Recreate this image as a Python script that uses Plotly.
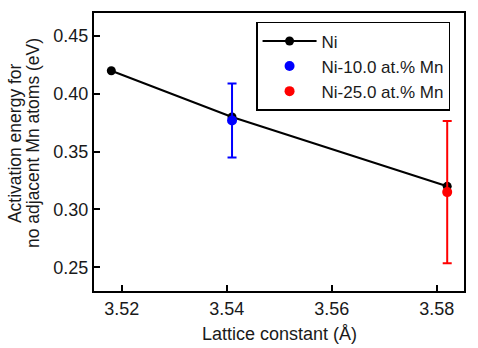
import plotly.graph_objects as go

# Data
ni_x = [3.518, 3.541, 3.582]
ni_y = [0.420, 0.380, 0.320]

mn10_x = [3.541]
mn10_y = [0.377]
mn10_err = [0.032]

mn25_x = [3.582]
mn25_y = [0.315]
mn25_err = [0.0615]

x_ticks = [3.52, 3.54, 3.56, 3.58]
y_ticks = [0.25, 0.30, 0.35, 0.40, 0.45]

x_title = "Lattice constant (Å)"
y_title_lines = ["Activation energy for", "no adjacent Mn atoms (eV)"]

FONT = "Liberation Sans, Arial, sans-serif"
TXT = "#1a1a1a"

fig = go.Figure()
fig.add_trace(go.Scatter(
    x=ni_x, y=ni_y, mode="lines+markers", name="Ni",
    line=dict(color="black", width=2),
    marker=dict(color="black", size=9),
))
fig.add_trace(go.Scatter(
    x=mn10_x, y=mn10_y, mode="markers", name="Ni-10.0 at.% Mn",
    marker=dict(color="#0000ff", size=10),
    error_y=dict(type="data", array=mn10_err, color="#0000ff", thickness=2, width=4.5),
))
fig.add_trace(go.Scatter(
    x=mn25_x, y=mn25_y, mode="markers", name="Ni-25.0 at.% Mn",
    marker=dict(color="#ff0000", size=10),
    error_y=dict(type="data", array=mn25_err, color="#ff0000", thickness=2, width=4.5),
))

axis_common = dict(
    showline=True, linecolor="black", linewidth=2, mirror=True,
    ticks="inside", ticklen=6, tickwidth=1.5, tickcolor="black",
    showgrid=False, zeroline=False,
    tickfont=dict(family=FONT, size=18, color=TXT),
)

fig.update_layout(
    width=478, height=348,
    margin=dict(l=94, r=14, t=11, b=57),
    paper_bgcolor="white", plot_bgcolor="white",
    font=dict(family=FONT, color=TXT),
    showlegend=True,
    legend=dict(
        x=0.438, y=0.968, xanchor="left", yanchor="top",
        bordercolor="black", borderwidth=1.5, bgcolor="white",
        font=dict(family=FONT, size=17, color=TXT),
        itemwidth=54, tracegroupgap=0,
    ),
    xaxis=dict(
        range=[3.5147, 3.5852], tickvals=x_ticks,
        ticktext=[f"{v:.2f}" for v in x_ticks],
        **axis_common,
    ),
    yaxis=dict(
        range=[0.2294, 0.470], tickvals=y_ticks,
        ticktext=[f"{v:.2f}" for v in y_ticks],
        **axis_common,
    ),
)

fig.add_annotation(
    text=x_title, xref="paper", yref="paper", x=0.5, y=-0.1536,
    xanchor="center", yanchor="middle", showarrow=False,
    font=dict(family=FONT, size=18, color=TXT),
)
for xp, line in zip([-0.2135, -0.165], y_title_lines):
    fig.add_annotation(
        text=line, xref="paper", yref="paper", x=xp, y=0.532,
        xanchor="center", yanchor="middle", showarrow=False, textangle=-90,
        font=dict(family=FONT, size=17.5, color=TXT),
    )

fig.write_html("out.html")
